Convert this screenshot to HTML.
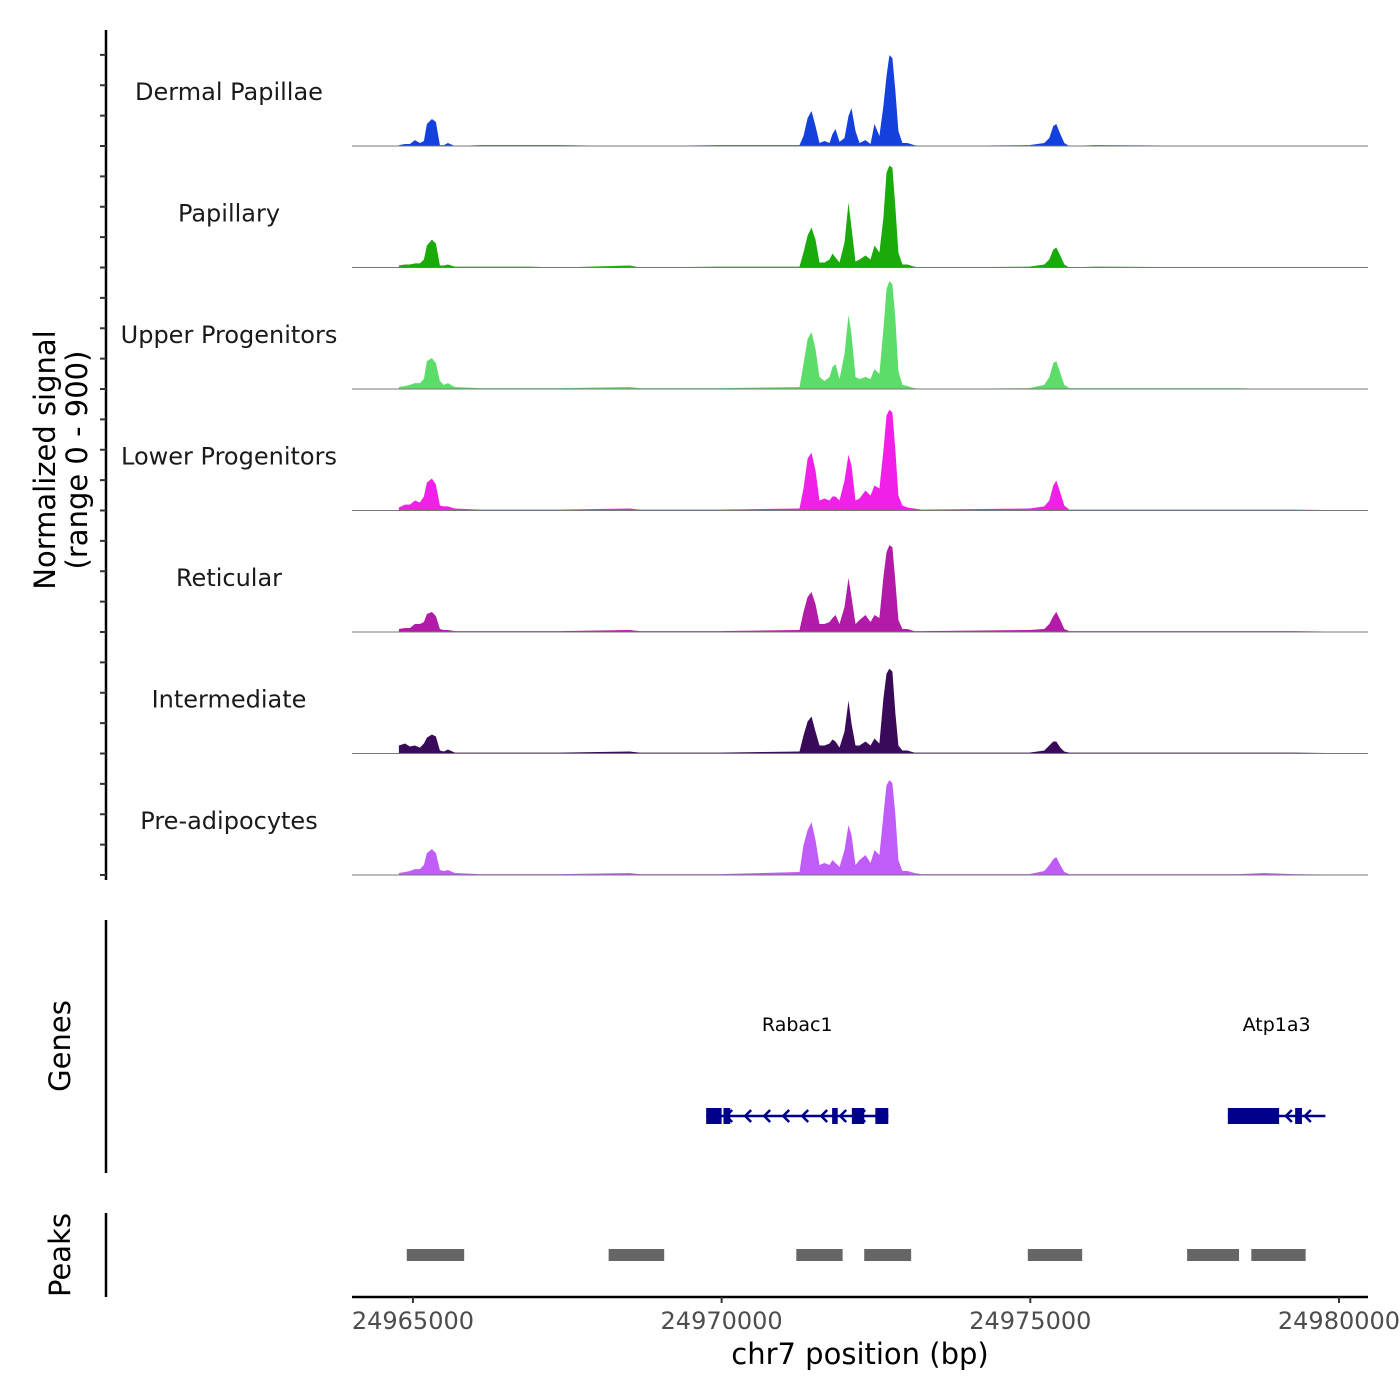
<!DOCTYPE html>
<html><head><meta charset="utf-8"><style>
html,body{margin:0;padding:0;background:#fff}
svg{display:block;font-family:"DejaVu Sans","Liberation Sans",sans-serif}
</style></head><body>
<svg id="chart" width="1400" height="1400" viewBox="0 0 1400 1400" xmlns="http://www.w3.org/2000/svg">
<g id="tracks"></g>
<g id="yaxis"></g>
<text transform="translate(55,460) rotate(-90)" text-anchor="middle" font-size="29">Normalized signal</text>
<text transform="translate(87,460) rotate(-90)" text-anchor="middle" font-size="29">(range 0 - 900)</text>
<line x1="106" y1="920" x2="106" y2="1173" stroke="#000" stroke-width="2.5"/>
<text transform="translate(70,1046) rotate(-90)" text-anchor="middle" font-size="29">Genes</text>
<line x1="106" y1="1213" x2="106" y2="1297" stroke="#000" stroke-width="2.5"/>
<text transform="translate(70,1255) rotate(-90)" text-anchor="middle" font-size="29">Peaks</text>
<g id="genes"></g>
<g id="peaks"></g>
<g id="xaxis"></g>
<text x="860" y="1364" text-anchor="middle" font-size="29">chr7 position (bp)</text>
</svg>
<script>
const trackNames=["Dermal Papillae","Papillary","Upper Progenitors","Lower Progenitors","Reticular","Intermediate","Pre-adipocytes"];
const trackColors=["#1440dd","#1aaa0a","#5cdd6a","#f020e8","#b21aa8","#3a0a5a","#c05cf8"];
const positions=[24964773,24964871,24964951,24965032,24965113,24965178,24965227,24965307,24965372,24965437,24965502,24965566,24965680,24966084,24966893,24967379,24968511,24968673,24969968,24971262,24971327,24971392,24971456,24971521,24971586,24971667,24971748,24971796,24971845,24971909,24971990,24972055,24972104,24972168,24972233,24972330,24972411,24972476,24972556,24972621,24972670,24972718,24972767,24972815,24972864,24972929,24973010,24973123,24973236,24974984,24975227,24975308,24975372,24975421,24975486,24975550,24975631,24976036,24978382,24978787,24979272,24980453];
const dermal=[7,15,15,44,22,37,163,200,178,7,7,22,0,7,7,7,0,0,7,7,74,207,259,148,22,37,22,89,126,30,59,222,281,111,22,44,15,163,74,296,518,673,651,407,111,22,22,7,0,7,22,59,148,163,89,22,0,7,0,0,0,0];
const papillary=[15,22,22,30,30,59,163,207,178,15,15,22,7,7,7,0,15,0,7,7,111,237,296,207,37,37,59,104,74,37,185,481,296,44,59,89,59,163,111,370,703,755,740,444,111,22,22,7,0,7,22,59,133,148,89,22,0,7,0,0,0,0];
const upper=[15,22,30,44,44,74,207,229,192,59,30,44,15,7,7,7,15,7,7,15,185,370,422,296,89,59,89,163,185,74,259,548,407,89,74,89,74,148,111,444,740,799,777,518,133,30,22,7,0,7,30,89,192,207,118,30,7,7,7,0,0,0];
const lower=[22,44,44,74,59,104,207,237,192,37,30,30,15,7,7,7,15,7,7,15,163,385,429,296,74,89,74,104,104,74,222,414,333,74,89,148,111,185,163,444,703,747,725,444,111,37,22,15,7,15,30,74,185,222,133,37,7,7,7,7,7,0];
const reticular=[22,30,30,59,59,74,133,148,118,22,15,15,7,7,7,7,15,7,7,15,148,259,296,207,59,59,74,104,126,59,185,400,259,59,89,126,74,126,104,407,592,644,629,370,89,22,22,7,7,15,22,59,118,148,89,22,7,7,7,7,7,0];
const intermediate=[59,74,52,59,44,74,118,141,126,22,15,30,7,7,7,7,15,7,7,15,133,237,274,163,59,59,74,104,89,44,163,392,222,59,59,89,59,111,74,407,592,629,607,296,59,22,22,7,7,7,22,59,89,89,44,15,7,7,7,7,7,0];
const preadipo=[15,22,30,44,44,74,163,192,163,37,30,37,15,7,7,7,15,7,7,22,222,333,392,259,74,89,74,111,89,59,185,370,296,74,111,148,89,185,148,444,666,703,681,444,111,30,30,15,7,7,30,74,118,133,74,22,7,7,7,15,7,0];
const seriesValues=[dermal,papillary,upper,lower,reticular,intermediate,preadipo];
const xTicks=[24965000,24970000,24975000,24980000];
const peakStarts=[24964900,24968170,24971210,24972310,24974960,24977540,24978580];
const peakEnds=[24965830,24969070,24971960,24973070,24975840,24978380,24979460];
const geneNames=["Rabac1","Atp1a3"];
const geneStarts=[24969750,24978200];
const geneEnds=[24972700,24979780];
const rabacExonStarts=[24969750,24970030,24971790,24972110,24972490];
const rabacExonEnds=[24970000,24970140,24971880,24972310,24972700];
const atpExonStarts=[24978200,24979290];
const atpExonEnds=[24979030,24979400];
const yMax=900;

const NS="http://www.w3.org/2000/svg";
function mk(tag,attrs,parent){const e=document.createElementNS(NS,tag);for(const k in attrs)e.setAttribute(k,attrs[k]);parent.appendChild(e);return e;}
const X0=352,X1=1368;
const dMin=24964013,dMax=24980470;
function xs(bp){return X0+(bp-dMin)/(dMax-dMin)*(X1-X0);}
const trackH=121.5, firstBase=146;
function ys(v,i){return firstBase+i*trackH-v/yMax*trackH;}

const tg=document.getElementById('tracks');
seriesValues.forEach((vals,i)=>{
  const base=firstBase+i*trackH;
  let d="M"+xs(positions[0])+","+base;
  vals.forEach((v,j)=>{d+=" L"+xs(positions[j]).toFixed(1)+","+ys(v,i).toFixed(1);});
  d+=" L"+xs(positions[positions.length-1]).toFixed(1)+","+base+" Z";
  const p=mk('path',{d:d,fill:trackColors[i]},tg);
  
  
  const l=mk('line',{x1:X0,x2:X1,y1:base,y2:base,stroke:'#777','stroke-width':1},tg);
  
  
  const t=mk('text',{x:229,y:base-46,'text-anchor':'middle','font-size':24,fill:'#1a1a1a'},tg);
  t.textContent=trackNames[i];
  
  
});

const ya=document.getElementById('yaxis');
const yl=mk('line',{x1:106,x2:106,y1:30,y2:880,stroke:'#000','stroke-width':2.5},ya);


for(let i=0;i<7;i++){
  for(let k=0;k<4;k++){
    const y=firstBase+i*trackH-k*trackH/4;
    const tk=mk('line',{x1:100,x2:106,y1:y,y2:y,stroke:'#333','stroke-width':2},ya);
    
    
  }
}

const xa=document.getElementById('xaxis');
const xl=mk('line',{x1:X0,x2:X1,y1:1297,y2:1297,stroke:'#000','stroke-width':2.5},xa);


xTicks.forEach(t=>{
  const x=xs(t);
  const tk=mk('line',{x1:x,x2:x,y1:1297,y2:1303,stroke:'#333','stroke-width':2},xa);
  
  
  const lb=mk('text',{x:x,y:1329,'text-anchor':'middle','font-size':24,fill:'#4d4d4d'},xa);
  lb.textContent=String(t);
  
  
});

const pg=document.getElementById('peaks');
peakStarts.forEach((s,i)=>{
  const r=mk('rect',{x:xs(s),y:1249,width:xs(peakEnds[i])-xs(s),height:12,fill:'#666'},pg);
  
  
});

const gg=document.getElementById('genes');
const gy=1116, gc='#00008b';
const exonSets=[[rabacExonStarts,rabacExonEnds],[atpExonStarts,atpExonEnds]];
geneNames.forEach((n,i)=>{
  const a=xs(geneStarts[i]), b=xs(geneEnds[i]);
  const ln=mk('line',{x1:a,x2:b,y1:gy,y2:gy,stroke:gc,'stroke-width':2.5},gg);
  
  
  for(let x=a+22;x<b-4;x+=19){
    const ar=mk('path',{d:`M${x+4},${gy-6} L${x-2},${gy} L${x+4},${gy+6}`,fill:'none',stroke:gc,'stroke-width':2.5},gg);
    
    
  }
  const [es,ee]=exonSets[i];
  es.forEach((s,j)=>{
    const r=mk('rect',{x:xs(s),y:gy-8,width:Math.max(5,xs(ee[j])-xs(s)),height:16,fill:gc},gg);
    
    
  });
  const t=mk('text',{x:(a+b)/2,y:1031,'text-anchor':'middle','font-size':19,fill:'#000'},gg);
  t.textContent=n;
  
  
});
</script>
</body></html>
